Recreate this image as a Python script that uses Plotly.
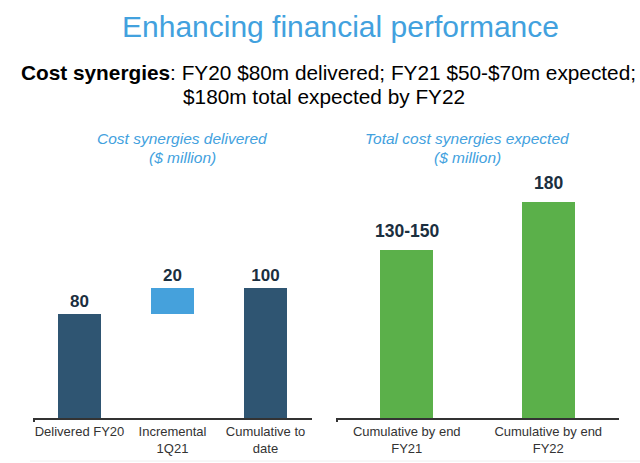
import plotly.graph_objects as go

# Data
left_categories = ["Delivered FY20", "Incremental<br>1Q21", "Cumulative to<br>date"]
left_values = [80, 20, 100]
left_bases = [0, 80, 0]
left_labels = ["80", "20", "100"]
left_colors = ["#2F5572", "#45A1DC", "#2F5572"]

right_categories = ["Cumulative by end<br>FY21", "Cumulative by end<br>FY22"]
right_values = [140, 180]
right_labels = ["130-150", "180"]
right_color = "#5BB04A"

FONT = "Arial, Liberation Sans, sans-serif"
W, H = 640, 463

def py(px):
    return 1 - px / H

fig = go.Figure()

fig.add_trace(go.Bar(
    x=left_categories, y=left_values, base=left_bases,
    marker=dict(color=left_colors, line=dict(width=0)),
    text=left_labels, textposition="outside", constraintext="none",
    textfont=dict(family=FONT, size=17, color="#1B2F3F", weight="bold"),
    cliponaxis=False, width=0.465,
    xaxis="x", yaxis="y", showlegend=False, hoverinfo="skip",
))

fig.add_trace(go.Bar(
    x=right_categories, y=right_values,
    marker=dict(color=right_color, line=dict(width=0)),
    cliponaxis=False, width=0.375,
    xaxis="x2", yaxis="y2", showlegend=False, hoverinfo="skip",
))

axis_common = dict(showgrid=False, zeroline=False, fixedrange=True, automargin=False)

fig.update_layout(
    width=W, height=H,
    margin=dict(l=0, r=0, t=0, b=0, autoexpand=False),
    paper_bgcolor="white", plot_bgcolor="white",
    font=dict(family=FONT, color="#333333"),
    xaxis=dict(domain=[33 / W, 312 / W], anchor="y", showline=True, linecolor="#333333", linewidth=2,
               ticks="", tickfont=dict(size=13, color="#333333"), **axis_common),
    yaxis=dict(domain=[py(418), py(260)], range=[0, 158 / 1.3], visible=False, anchor="x", **axis_common),
    xaxis2=dict(domain=[336 / W, 619 / W], anchor="y2", showline=True, linecolor="#333333", linewidth=2,
                ticks="", tickfont=dict(size=13, color="#333333"), **axis_common),
    yaxis2=dict(domain=[py(418), py(180)], range=[0, 238 / 1.2], visible=False, anchor="x2", **axis_common),
    bargap=0,
)

annotations = [
    dict(text="Enhancing financial performance", x=340 / W, y=py(26), xref="paper", yref="paper",
         showarrow=False, font=dict(family=FONT, size=30, color="#42A1DE"), xanchor="center", yanchor="middle"),
    dict(text="<b>Cost synergies</b>: FY20 $80m delivered; FY21 $50-$70m expected;", x=328.5 / W, y=py(72),
         xref="paper", yref="paper", showarrow=False, font=dict(family=FONT, size=20.8, color="black"),
         xanchor="center", yanchor="middle"),
    dict(text="$180m total expected by FY22", x=324 / W, y=py(96),
         xref="paper", yref="paper", showarrow=False, font=dict(family=FONT, size=20.8, color="black"),
         xanchor="center", yanchor="middle"),
    dict(text="<i>Cost synergies delivered</i>", x=182 / W, y=py(138), xref="paper", yref="paper",
         showarrow=False, font=dict(family=FONT, size=15.5, color="#42A1DE"), xanchor="center", yanchor="middle"),
    dict(text="<i>($ million)</i>", x=182 / W, y=py(157), xref="paper", yref="paper",
         showarrow=False, font=dict(family=FONT, size=15.5, color="#42A1DE"), xanchor="center", yanchor="middle"),
    dict(text="<i>Total cost synergies expected</i>", x=467 / W, y=py(138), xref="paper", yref="paper",
         showarrow=False, font=dict(family=FONT, size=15.5, color="#42A1DE"), xanchor="center", yanchor="middle"),
    dict(text="<i>($ million)</i>", x=467 / W, y=py(157), xref="paper", yref="paper",
         showarrow=False, font=dict(family=FONT, size=15.5, color="#42A1DE"), xanchor="center", yanchor="middle"),
]
for cat, val, lab in zip(right_categories, right_values, right_labels):
    annotations.append(dict(
        text=f"<b>{lab}</b>", x=cat, y=val, xref="x2", yref="y2", showarrow=False,
        font=dict(family=FONT, size=17.5, color="#1B2F3F"), xanchor="center", yanchor="middle", yshift=19,
    ))
fig.update_layout(annotations=annotations)

# small end hooks on the axis lines and faint bottom rule
for x0 in (33 / W, 336 / W):
    fig.add_shape(type="line", xref="paper", yref="paper", x0=x0 + 1 / W, x1=x0 + 1 / W,
                  y0=py(418), y1=py(422), line=dict(color="#333333", width=2))
fig.add_shape(type="line", xref="paper", yref="paper", x0=30 / W, x1=1, y0=py(461), y1=py(461),
              line=dict(color="#EEEEEE", width=1))

fig.write_html(
    "out.html",
    config={"displayModeBar": False, "staticPlot": True},
    post_script="document.body.style.margin='0';document.body.style.overflow='hidden';",
)
